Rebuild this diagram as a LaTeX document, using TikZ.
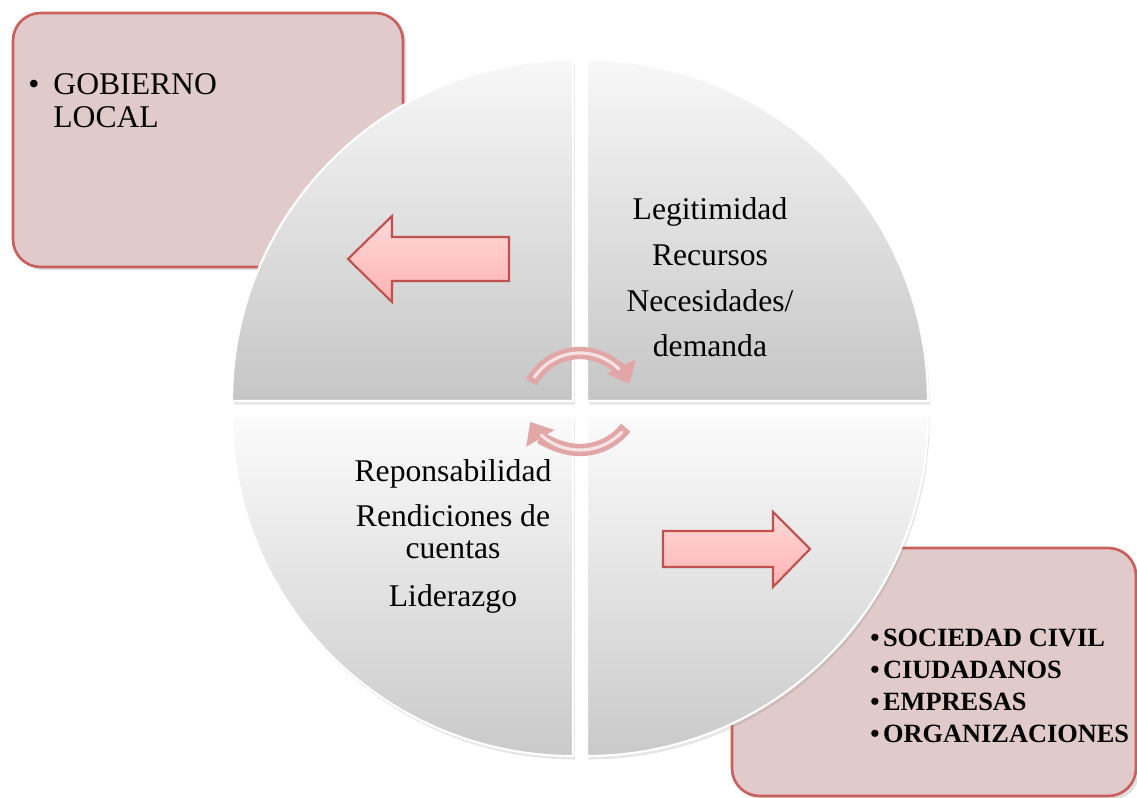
\documentclass[tikz,border=0pt]{standalone}
\usepackage{fontspec}
\setmainfont{Liberation Serif}
\usepackage{tikz}
\usetikzlibrary{arrows.meta,shadows}
\definecolor{boxfill}{HTML}{E0CACA}
\definecolor{boxline}{HTML}{C9605E}
\definecolor{arrowline}{HTML}{C0504D}
\definecolor{turnpink}{HTML}{E2A6A7}

\begin{document}
\begin{tikzpicture}[x=0.02cm, y=0.02cm,
  infobox/.style={draw=boxline, line width=1.5pt, fill=boxfill, rounded corners=0.55cm, inner sep=0pt,
    drop shadow={shadow xshift=2pt, shadow yshift=-2pt, opacity=0.25}},
  quarter/.style={draw=white, line width=1.2pt, top color=gray!6, bottom color=gray!45,
    drop shadow={shadow xshift=1pt, shadow yshift=-2pt, opacity=0.2}},
  lowquarter/.style={quarter, top color=gray!3, bottom color=gray!42},
  blockarrow/.style={draw=arrowline, line width=1.2pt, top color=red!15, bottom color=red!30},
  turnarrow/.style={draw=turnpink, line width=7pt, -{Triangle[width=18pt,length=11pt]}},
  turnshine/.style={draw=white, opacity=0.7, line width=1.8pt, line cap=round},
  quadtext/.style={inner sep=0pt, anchor=base, font=\fontsize{18}{20}\selectfont},
  actortext/.style={inner sep=0pt, anchor=base west, font=\fontsize{18}{20}\selectfont},
  grouptext/.style={inner sep=0pt, anchor=base west, font=\bfseries\fontsize{15}{17}\selectfont}]
\useasboundingbox (0,0) rectangle (1137,798);

% Actor boxes
\node[infobox, minimum width=7.8cm, minimum height=5.08cm] (gobierno) at (208,658) {};
\node[infobox, minimum width=8.08cm, minimum height=4.96cm] (sociedad) at (934,126) {};

% Circle in four quarters
\path[quarter] (573,397) -- ++(-341,0) arc (180:90:341) -- cycle;
\path[quarter] (587,397) -- ++(0,341) arc (90:0:341) -- cycle;
\path[lowquarter] (573,383) -- ++(0,-341) arc (270:180:341) -- cycle;
\path[lowquarter] (587,383) -- ++(341,0) arc (0:-90:341) -- cycle;

% Block arrows
\path[blockarrow] (348,539) -- (392,582) -- (392,561) -- (509,561) -- (509,517) -- (392,517) -- (392,496) -- cycle;
\path[blockarrow] (663,267) -- (773,267) -- (773,286) -- (810,249) -- (773,211) -- (773,231) -- (663,231) -- cycle;

% Turning arrows
\draw[turnarrow] (580,390) ++(152:55) arc (152:26:55);
\draw[turnarrow] (580,406) ++(322:58) arc (322:211:58);
\draw[turnshine] (580,390) ++(146:55) arc (146:45:55);
\draw[turnshine] (580,406) ++(316:58) arc (316:228:58);

% Texts
\node[actortext] (gob1) at (28,703) {\textbullet\hspace{8pt}GOBIERNO};
\node[actortext] (gob2) at (53,670) {LOCAL};

\node[quadtext] (legit) at (710,578) {Legitimidad};
\node[quadtext] (recur) at (710,532) {Recursos};
\node[quadtext] (neces) at (710,486) {Necesidades/};
\node[quadtext] (deman) at (710,441) {demanda};

\node[quadtext] (respon) at (453,316) {Reponsabilidad};
\node[quadtext] (rendic) at (453,271) {Rendiciones de};
\node[quadtext] (cuent) at (453,239) {cuentas};
\node[quadtext] (lider) at (453,191) {Liderazgo};

\node[grouptext] (soc1) at (870,151) {\textbullet\hspace{2pt}SOCIEDAD CIVIL};
\node[grouptext] (soc2) at (870,119) {\textbullet\hspace{2pt}CIUDADANOS};
\node[grouptext] (soc3) at (870,87) {\textbullet\hspace{2pt}EMPRESAS};
\node[grouptext] (soc4) at (870,55) {\textbullet\hspace{2pt}ORGANIZACIONES};

\end{tikzpicture}
\end{document}
